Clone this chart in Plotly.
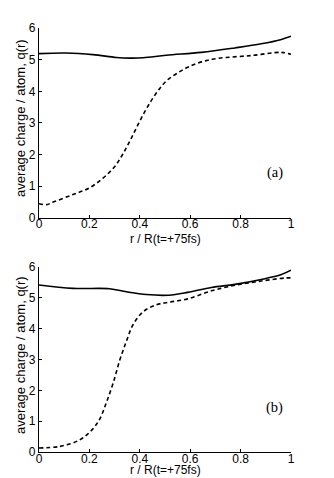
import plotly.graph_objects as go
from plotly.subplots import make_subplots

r_a_solid = [0.0, 0.108, 0.214, 0.307, 0.36, 0.413, 0.505, 0.644, 0.777, 0.882, 0.962, 1.0]
q_a_solid = [5.19, 5.21, 5.16, 5.07, 5.05, 5.06, 5.14, 5.23, 5.37, 5.5, 5.64, 5.74]

r_a_dash = [0.0, 0.03, 0.056, 0.135, 0.2, 0.254, 0.3, 0.33, 0.36, 0.39, 0.42, 0.45, 0.48, 0.51, 0.55, 0.59, 0.644, 0.71, 0.843, 0.962, 1.0]
q_a_dash = [0.45, 0.42, 0.5, 0.74, 0.95, 1.26, 1.62, 1.98, 2.42, 2.9, 3.36, 3.76, 4.1, 4.36, 4.58, 4.76, 4.93, 5.04, 5.13, 5.23, 5.17]

r_b_solid = [0.0, 0.135, 0.28, 0.347, 0.426, 0.515, 0.59, 0.684, 0.777, 0.882, 0.962, 1.0]
q_b_solid = [5.42, 5.31, 5.30, 5.2, 5.11, 5.09, 5.18, 5.34, 5.44, 5.6, 5.76, 5.9]

r_b_dash = [0.0, 0.082, 0.161, 0.208, 0.241, 0.267, 0.294, 0.32, 0.347, 0.373, 0.413, 0.466, 0.515, 0.59, 0.684, 0.777, 0.882, 0.981, 1.0]
q_b_dash = [0.13, 0.18, 0.39, 0.7, 1.07, 1.6, 2.23, 2.97, 3.6, 4.13, 4.55, 4.78, 4.86, 4.97, 5.23, 5.41, 5.55, 5.65, 5.65]

x_ticks = [0, 0.2, 0.4, 0.6, 0.8, 1]
x_tick_labels = ["0", "0.2", "0.4", "0.6", "0.8", "1"]
y_ticks = [0, 1, 2, 3, 4, 5, 6]
panel_labels = ["(a)", "(b)"]
x_title = "r / R(t=+75fs)"
y_title = "average charge / atom, q(r)"

fig = make_subplots(rows=2, cols=1)
fig.update_layout(yaxis=dict(domain=[0.552, 1.0]), yaxis2=dict(domain=[0.0, 0.436]))

line_kw = dict(color="black", width=1.6)
fig.add_trace(go.Scatter(x=r_a_solid, y=q_a_solid, mode="lines", line=dict(**line_kw, shape="spline")), row=1, col=1)
fig.add_trace(go.Scatter(x=r_a_dash, y=q_a_dash, mode="lines", line=dict(**line_kw, shape="spline", dash="4px,3px")), row=1, col=1)
fig.add_trace(go.Scatter(x=r_b_solid, y=q_b_solid, mode="lines", line=dict(**line_kw, shape="spline")), row=2, col=1)
fig.add_trace(go.Scatter(x=r_b_dash, y=q_b_dash, mode="lines", line=dict(**line_kw, shape="spline", dash="4px,3px")), row=2, col=1)

sans = "Liberation Sans, Arial, sans-serif"
tickfont = dict(family=sans, size=12, color="black")
for i in (1, 2):
    fig.update_xaxes(range=[0, 1], tickvals=x_ticks, ticktext=x_tick_labels, ticks="inside", ticklen=3,
                     tickcolor="black", showline=True, linecolor="black", linewidth=1.2, mirror=False,
                     showgrid=False, zeroline=False, tickfont=tickfont, ticklabelstandoff=-5, row=i, col=1)
    fig.update_yaxes(range=[0, 6], tickvals=y_ticks, ticks="inside", ticklen=3, tickcolor="black",
                     showline=True, linecolor="black", linewidth=1.2, mirror=False, showgrid=False,
                     zeroline=False, tickfont=tickfont, row=i, col=1)

for yc, ytc in ((0.788, 0.502), (0.229, -0.0425)):
    fig.add_annotation(x=-0.0714, y=yc, xref="paper", yref="paper", text=y_title, textangle=-90,
                       showarrow=False, font=dict(family=sans, size=13, color="black"),
                       xanchor="center", yanchor="middle")
    fig.add_annotation(x=0.5, y=ytc, xref="paper", yref="paper", text=x_title,
                       showarrow=False, font=dict(family=sans, size=12, color="black"),
                       xanchor="center", yanchor="middle", borderpad=0)

fig.add_annotation(x=0.936, y=1.45, xref="x", yref="y", text=panel_labels[0], showarrow=False,
                   font=dict(family="Liberation Serif, Times New Roman, serif", size=14.5, color="black"))
fig.add_annotation(x=0.936, y=1.45, xref="x2", yref="y2", text=panel_labels[1], showarrow=False,
                   font=dict(family="Liberation Serif, Times New Roman, serif", size=14.5, color="black"))

fig.update_layout(width=334, height=478, margin=dict(l=31, r=51, t=20, b=34),
                  plot_bgcolor="white", paper_bgcolor="white", showlegend=False)
fig.write_html("out.html")
